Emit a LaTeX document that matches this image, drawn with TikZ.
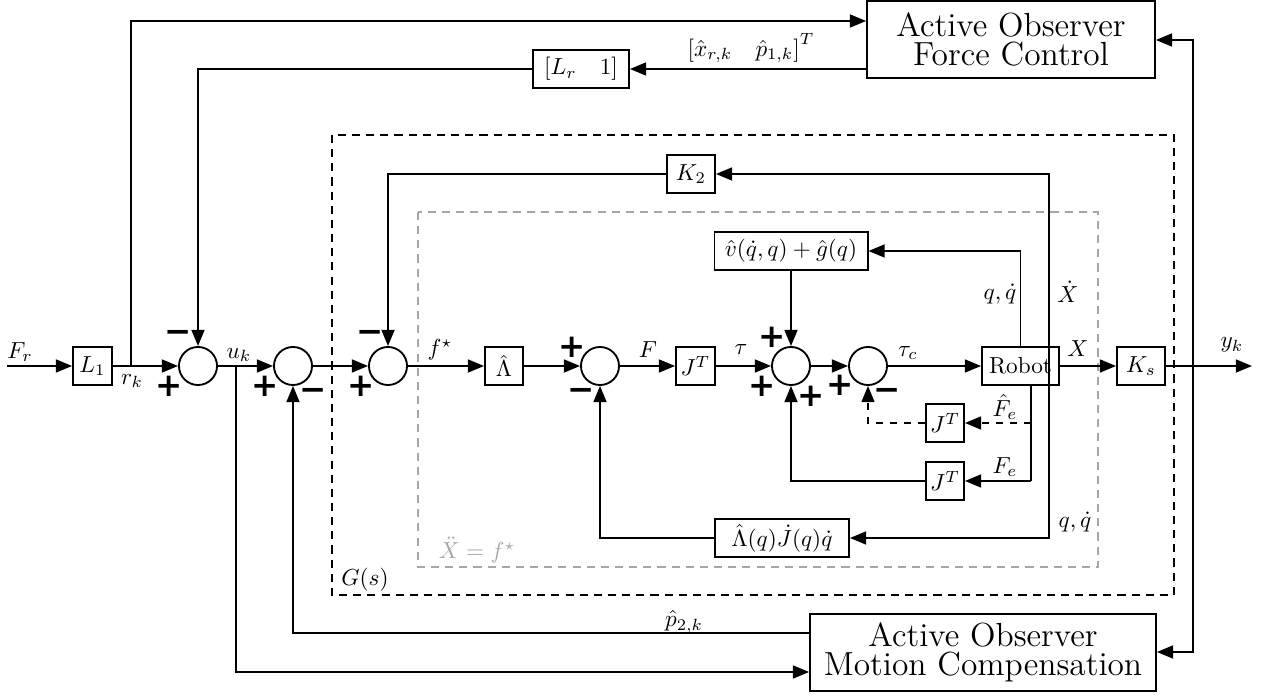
\documentclass[tikz,border=0pt]{standalone}
\usepackage{fontspec}
\newfontfamily\signfont{DejaVu Sans}
\usetikzlibrary{arrows.meta}
\begin{document}
\begin{tikzpicture}[x=0.431pt,y=-0.431pt, line width=0.8pt,
  >={Triangle[length=7pt,width=5.6pt]},
  blk/.style={draw,minimum height=16.4pt,inner sep=1pt},
  sumc/.style={draw,circle,minimum size=16.4pt,inner sep=0pt},
  sig/.style={font=\signfont\bfseries\fontsize{14}{14}\selectfont,inner sep=0pt},
  lbl/.style={inner sep=0pt},
  bigbox/.style={draw,minimum height=33.2pt,align=center,font=\Large,inner sep=1pt},
  outerdash/.style={dash pattern=on 3.5pt off 2.6pt},
  innerdash/.style={dash pattern=on 3.5pt off 2.6pt, draw=black!35}]
\useasboundingbox (0,0) rectangle (1263,697);

% frames
\draw[outerdash] (332,135) rectangle (1174,595);
\draw[innerdash] (418,212) rectangle (1098,567);

% blocks
\node[blk, minimum width=16.8pt] (L1) at (92.5,366) {$L_1$};
\node[sumc] (s1) at (198,366) {};
\node[sumc] (s2) at (293,366) {};
\node[sumc] (s3) at (388,366) {};
\node[blk, minimum width=16.4pt] (Lam) at (504,366) {$\hat{\Lambda}$};
\node[sumc] (sF) at (600,366) {};
\node[blk, minimum width=16.8pt] (JT) at (695.5,366) {$J^T$};
\node[sumc] (s4) at (791,366) {};
\node[sumc] (s5) at (868,366) {};
\node[blk, minimum width=33.2pt] (rob) at (1020.5,366) {Robot};
\node[blk, minimum width=20.7pt] (Ks) at (1141,366) {$K_s$};
\node[blk, minimum width=66pt] (vg) at (791,251) {$\hat{v}(\dot{q},q)+\hat{g}(q)$};
\node[blk, minimum width=20.7pt] (K2) at (691,174) {$K_2$};
\node[blk, minimum width=41.4pt] (Lr) at (581,69) {$[L_r\quad 1]$};
\node[bigbox, minimum width=124.1pt] (AOFC) at (1011,39.5) {Active Observer\\[-5.5pt]Force Control};
\node[bigbox, minimum width=149.1pt] (AOMC) at (983,652.5) {Active Observer\\[-5.5pt]Motion Compensation};
\node[blk, minimum width=16.4pt] (JTa) at (945,423) {$J^T$};
\node[blk, minimum width=16.4pt] (JTb) at (945,481) {$J^T$};
\node[blk, minimum width=57.8pt] (LJ) at (782,538) {$\hat{\Lambda}(q)\dot{J}(q)\dot{q}$};

% coordinates
\coordinate (in) at (7,366);
\coordinate (out) at (1252,366);
\coordinate (b1) at (131,366);
\coordinate (t1) at (131,21);
\coordinate (t2) at (198,69);
\coordinate (b2) at (236,366);
\coordinate (b2d) at (236,672);
\coordinate (p2) at (293,633);
\coordinate (xa) at (1049,174);
\coordinate (xb) at (1049,538);
\coordinate (k2l) at (388,174);
\coordinate (fa) at (1031,423);
\coordinate (fb) at (1031,481);
\coordinate (da) at (868,423);
\coordinate (db) at (791,481);
\coordinate (la) at (600,538);
\coordinate (ry) at (1193,366);
\coordinate (rt) at (1193,40);
\coordinate (rb) at (1193,652);

% connectors
\draw[->] (in) -- (L1);
\draw[->] (L1) -- (s1);
\draw[->] (b1) -- (t1) -- (AOFC.west |- t1);
\draw[->] (AOFC.west |- Lr) -- (Lr);
\draw[->] (Lr) -- (t2) -- (s1);
\draw[->] (s1) -- (s2);
\draw[->] (b2) -- (b2d) -- (AOMC.west |- b2d);
\draw[->] (AOMC.west |- p2) -- (p2) -- (s2);
\draw[->] (s2) -- (s3);
\draw[<->] (K2) -- (xa) -- (xb) -- (LJ);
\draw[->] (K2) -- (k2l) -- (s3);
\draw[->] (s3) -- (Lam);
\draw[->] (Lam) -- (sF);
\draw[->] (sF) -- (JT);
\draw[->] (JT) -- (s4);
\draw[->] (s4) -- (s5);
\draw[->] (s5) -- (rob);
\draw[->] (rob) -- (Ks);
\draw[->] (Ks) -- (out);
\draw[->] (rob) -- (rob |- vg) -- (vg);
\draw[->] (vg) -- (s4);
\draw (rob.south -| fa) -- (fb);
\draw[->, dashed] (fa) -- (JTa);
\draw[->] (fb) -- (JTb);
\draw[->, dashed] (JTa) -- (da) -- (s5);
\draw[->] (JTb) -- (db) -- (s4);
\draw[->] (LJ) -- (la) -- (sF);
\draw[<->] (AOFC.east |- rt) -- (rt) -- (rb) -- (AOMC.east |- rb);

% signs
\node[sig] (g1a) at (178,336) {−};
\node[sig] (g1b) at (169,386) {+};
\node[sig] (g2a) at (265,386) {+};
\node[sig] (g2b) at (313,394) {−};
\node[sig] (g3a) at (370,336) {−};
\node[sig] (g3b) at (361,386) {+};
\node[sig] (gFa) at (572,347) {+};
\node[sig] (gFb) at (581,394) {−};
\node[sig] (g4a) at (772,337) {+};
\node[sig] (g4b) at (762,386) {+};
\node[sig] (g4c) at (811,396) {+};
\node[sig] (g5a) at (840,385) {+};
\node[sig] (g5b) at (887,394) {−};

% labels
\node[lbl] (lFr) at (20,352) {$F_r$};
\node[lbl] (lrk) at (132,381) {$r_k$};
\node[lbl] (luk) at (239,355) {$u_k$};
\node[lbl] (lfs) at (440,350) {$f^\star$};
\node[lbl] (lF) at (648,350) {$F$};
\node[lbl] (ltau) at (741,350) {$\tau$};
\node[lbl] (ltc) at (908,353) {$\tau_c$};
\node[lbl] (lX) at (1078,349) {$X$};
\node[lbl] (lyk) at (1232,345) {$y_k$};
\node[lbl] (lFeh) at (1005,407) {$\hat{F}_e$};
\node[lbl] (lFe) at (1005,467) {$F_e$};
\node[lbl] (lq1) at (1000,294) {$q,\dot{q}$};
\node[lbl] (lXd) at (1068,292) {$\dot{X}$};
\node[lbl] (lq2) at (1075,522) {$q,\dot{q}$};
\node[lbl] (lp2) at (684,622) {$\hat{p}_{2,k}$};
\node[lbl] (lxp) at (751,48) {$\left[\hat{x}_{r,k}\quad \hat{p}_{1,k}\right]^T$};
\node[lbl] (lGs) at (365,580) {$G(s)$};
\node[lbl, text=black!35] (lXdd) at (477,550) {$\ddot{X}=f^\star$};
\end{tikzpicture}
\end{document}
